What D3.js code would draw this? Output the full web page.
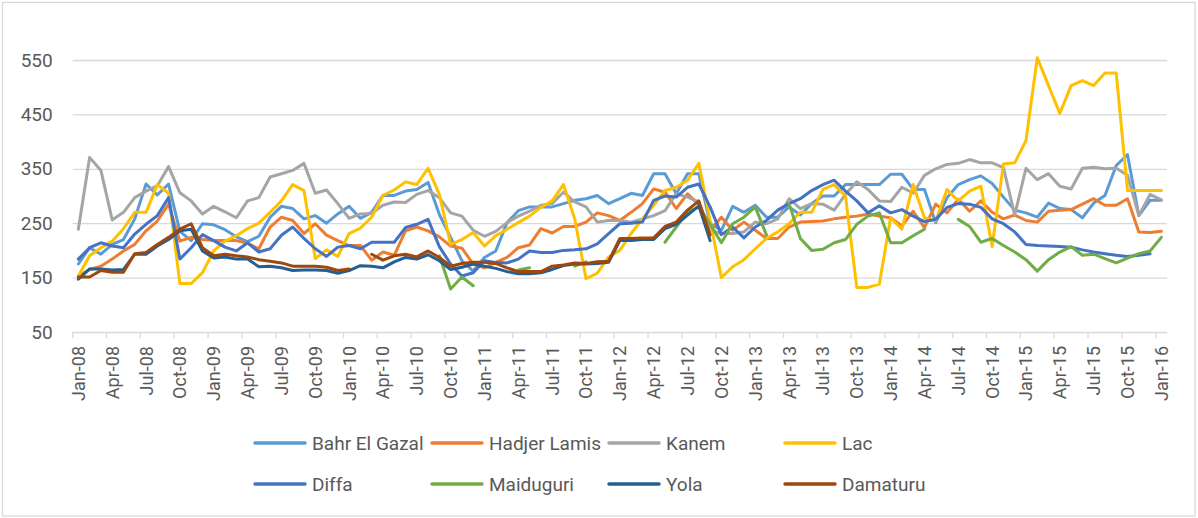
<!DOCTYPE html>
<html>
<head>
<meta charset="utf-8">
<script src="https://cdnjs.cloudflare.com/ajax/libs/d3/7.8.5/d3.min.js"></script>
<style>
  body { margin: 0; background: #fff; }
  text { font-family: Roboto, "Liberation Sans", sans-serif; fill: #595959; }
</style>
</head>
<body>
<svg id="chart" width="1198" height="518"></svg>
<script>
const w = 1198;
const h = 518;

// monthly categories Jan-08 .. Jan-16
const months = d3.timeMonth.range(new Date(2008, 0, 1), new Date(2016, 1, 1));
const yTicks = [50, 150, 250, 350, 450, 550];

const seriesNames = ["Bahr El Gazal", "Hadjer Lamis", "Kanem", "Lac", "Diffa", "Maiduguri", "Yola", "Damaturu"];
const seriesColors = ["#5B9BD5", "#ED7D31", "#A5A5A5", "#FFC000", "#4472C4", "#70AD47", "#255E91", "#9E480E"];

// one row per year, Jan..Dec, last row Jan-16
const bahrElGazal = [
  175, 205, 193, 211, 220, 258, 322, 302, 322, 235, 218, 249,
  247, 238, 225, 216, 226, 261, 281, 277, 258, 264, 250, 267,
  281, 259, 270, 301, 301, 309, 312, 325, 266, 224, 181, 162,
  187, 199, 251, 273, 280, 280, 280, 286, 292, 295, 301, 286,
  295, 305, 301, 341, 341, 304, 341, 341, 249, 237, 281, 270,
  283, 261, 261, 280, 265, 286, 300, 300, 321, 321, 321, 321,
  340, 340, 312, 312, 251, 297, 321, 330, 337, 323, 298, 274,
  269, 261, 287, 277, 275, 260, 287, 301, 356, 376, 264, 292,
  292];

const hadjerLamis = [
  153, 165, 171, 184, 199, 211, 236, 254, 285, 217, 224, 220,
  218, 218, 218, 213, 203, 243, 261, 255, 231, 249, 228, 218,
  209, 209, 182, 197, 191, 236, 243, 236, 225, 208, 204, 175,
  168, 178, 187, 205, 210, 240, 232, 244, 244, 252, 269, 264,
  255, 270, 286, 313, 307, 277, 304, 284, 237, 261, 237, 252,
  237, 222, 222, 243, 252, 253, 254, 258, 261, 263, 267, 263,
  260, 245, 272, 242, 285, 269, 294, 272, 291, 270, 258, 265,
  255, 252, 272, 274, 275, 285, 295, 283, 283, 295, 234, 233,
  235];

const kanem = [
  239, 371, 347, 256, 270, 297, 309, 319, 354, 306, 291, 267,
  281, 271, 260, 291, 297, 335, 341, 347, 360, 305, 311, 286,
  259, 267, 268, 283, 289, 288, 303, 310, 297, 269, 263, 237,
  226, 235, 251, 263, 272, 283, 286, 307, 289, 280, 252, 255,
  255, 252, 258, 264, 273, 304, 298, 289, 237, 231, 231, 234,
  252, 249, 258, 295, 277, 286, 285, 274, 303, 326, 312, 291,
  290, 316, 305, 338, 350, 358, 360, 367, 361, 361, 352, 265,
  351, 330, 341, 318, 313, 351, 353, 350, 351, 338, 264, 303,
  293];

const lac = [
  153, 190, 205, 217, 240, 270, 270, 321, 305, 139, 139, 159,
  199, 217, 227, 240, 250, 270, 291, 321, 310, 185, 201, 189,
  231, 241, 261, 301, 311, 326, 321, 351, 303, 211, 220, 233,
  208, 227, 239, 251, 263, 279, 291, 321, 258, 148, 158, 188,
  200, 231, 258, 283, 310, 316, 329, 360, 255, 150, 170, 183,
  203, 222, 234, 249, 270, 270, 312, 321, 300, 132, 132, 138,
  260, 239, 321, 260, 254, 312, 291, 309, 318, 207, 359, 361,
  402, 554, 503, 452, 503, 512, 503, 526, 526, 310, 310, 310,
  310];

const diffa = [
  184, 205, 214, 208, 205, 230, 248, 264, 297, 184, 205, 229,
  218, 206, 199, 214, 197, 203, 228, 243, 222, 203, 189, 206,
  209, 203, 215, 215, 215, 242, 248, 257, 207, 175, 153, 159,
  181, 178, 177, 184, 199, 196, 196, 200, 201, 203, 212, 231,
  249, 250, 252, 292, 300, 298, 316, 322, 280, 229, 243, 223,
  243, 255, 274, 286, 295, 310, 321, 329, 309, 291, 269, 282,
  269, 275, 263, 253, 257, 279, 286, 285, 279, 258, 249, 234,
  211, 209, 208, 207, 206, 201, 197, 194, 191, 189, 191, 194,
  null];

const maiduguri = [
  null, null, null, null, null, null, null, null, null, null, null, null,
  null, null, null, null, null, null, null, null, null, null, null, null,
  null, null, null, null, null, null, null, null, 190, 129, 151, 135,
  null, null, null, 164, 168, null, null, null, 171, 179, null, null,
  null, null, null, null, 215, 243, 270, 280, 248, 214, 249, 261,
  280, 228, null, 286, 222, 200, 202, 214, 220, 248, 263, 269,
  214, 214, 227, 239, null, null, 257, 244, 215, 222, 209, 197,
  183, 162, 183, 197, 207, 191, 193, 185, 177, 186, 194, 199,
  224];

const yola = [
  147, 166, 166, 164, 165, 193, 193, 208, 220, 236, 239, 199,
  186, 188, 184, 184, 170, 171, 168, 163, 164, 164, 163, 158,
  163, 172, 171, 168, 179, 187, 184, 192, 181, 165, 169, 175,
  171, 167, 161, 157, 157, 159, 165, 172, 175, 175, 176, 178,
  218, 218, 220, 220, 240, 248, 265, 282, 218, null, null, null,
  null, null, null, null, null, null, null, null, null, null, null, null,
  null, null, null, null, null, null, null, null, null, null, null, null,
  null, null, null, null, null, null, null, null, null, null, null, null,
  null];

const damaturu = [
  151, 151, 163, 160, 160, 194, 196, 211, 224, 239, 249, 205,
  190, 193, 190, 188, 183, 180, 177, 171, 171, 171, 169, 163,
  166, null, 193, 182, 190, 193, 188, 199, 187, 171, 176, 178,
  178, 176, 168, 161, 161, 161, 171, 173, 177, 176, 179, 180,
  222, 222, 223, 223, 244, 252, 274, 291, 228, null, null, null,
  null, null, null, null, null, null, null, null, null, null, null, null,
  null, null, null, null, null, null, null, null, null, null, null, null,
  null, null, null, null, null, null, null, null, null, null, null, null,
  null];

const seriesValues = [bahrElGazal, hadjerLamis, kanem, lac, diffa, maiduguri, yola, damaturu];

const plotLeft = 72.7;
const plotRight = 1167;
const plotTop = 60;
const plotBottom = 332;

const svg = d3.select("#chart");

// chart border
svg.append("rect")
  .attr("x", 2.5).attr("y", 2.5)
  .attr("width", 1192.5).attr("height", 513.5)
  .attr("fill", "#fff")
  .attr("stroke", "#d9d9d9")
  .attr("stroke-width", 1.3);

const x = d3.scaleBand()
  .domain(months)
  .range([plotLeft, plotRight])
  .paddingInner(0).paddingOuter(0);

const y = d3.scaleLinear()
  .domain([50, 550])
  .range([plotBottom, plotTop]);

const fmt = d3.timeFormat("%b-%y");

// y axis + gridlines
const yAxis = d3.axisLeft(y)
  .tickValues(yTicks)
  .tickSize(-(plotRight - plotLeft))
  .tickPadding(20);

svg.append("g")
  .attr("transform", "translate(" + plotLeft + ",0)")
  .call(yAxis)
  .call(g => g.select(".domain").remove())
  .call(g => g.selectAll(".tick line").attr("stroke", "#d9d9d9").attr("stroke-width", 1.3))
  .call(g => g.selectAll(".tick text")
    .style("font-size", "19px")
    .style("font-family", "Roboto, sans-serif")
    .attr("fill", "#595959"));

// x axis labels
const xAxis = d3.axisBottom(x)
  .tickValues(months.filter((d, i) => i % 3 === 0))
  .tickFormat(fmt)
  .tickSize(0);

svg.append("g")
  .attr("transform", "translate(0," + plotBottom + ")")
  .call(xAxis)
  .call(g => g.select(".domain").remove())
  .call(g => g.selectAll(".tick text")
    .attr("transform", "rotate(-90)")
    .attr("x", -14)
    .attr("y", 0)
    .attr("dy", "0.36em")
    .style("text-anchor", "end")
    .style("font-size", "18px")
    .style("font-family", "Roboto, sans-serif")
    .attr("fill", "#595959"));

// tick marks between categories
svg.append("g")
  .selectAll("line")
  .data(months.filter((d, i) => i % 3 === 0))
  .enter()
  .append("line")
  .attr("x1", d => x(d))
  .attr("x2", d => x(d))
  .attr("y1", plotBottom)
  .attr("y2", plotBottom + 6)
  .attr("stroke", "#d9d9d9")
  .attr("stroke-width", 1.3);

// lines
const line = d3.line()
  .defined(d => d.v !== null)
  .x(d => x(d.m) + x.bandwidth() / 2)
  .y(d => y(d.v));

seriesValues.forEach((vals, k) => {
  const pts = months.map((m, i) => ({ m: m, v: vals[i] === undefined ? null : vals[i] }));
  svg.append("path")
    .datum(pts)
    .attr("fill", "none")
    .attr("stroke", seriesColors[k])
    .attr("stroke-width", 3)
    .attr("stroke-linejoin", "round")
    .attr("stroke-linecap", "round")
    .attr("d", line);
});

// legend
const legendCols = [253, 430, 607, 783];
const legendRows = [443, 484];

const legend = svg.append("g")
  .selectAll("g")
  .data(seriesNames)
  .enter()
  .append("g")
  .attr("transform", (d, i) => "translate(" + legendCols[i % 4] + "," + legendRows[Math.floor(i / 4)] + ")");

legend.append("line")
  .attr("x1", 2).attr("x2", 52)
  .attr("y1", 0).attr("y2", 0)
  .attr("stroke", (d, i) => seriesColors[i])
  .attr("stroke-width", 3.5)
  .attr("stroke-linecap", "round");

legend.append("text")
  .attr("x", 59)
  .attr("y", 0)
  .attr("dy", "0.35em")
  .style("font-size", "19px")
  .text(d => d);
</script>
</body>
</html>
